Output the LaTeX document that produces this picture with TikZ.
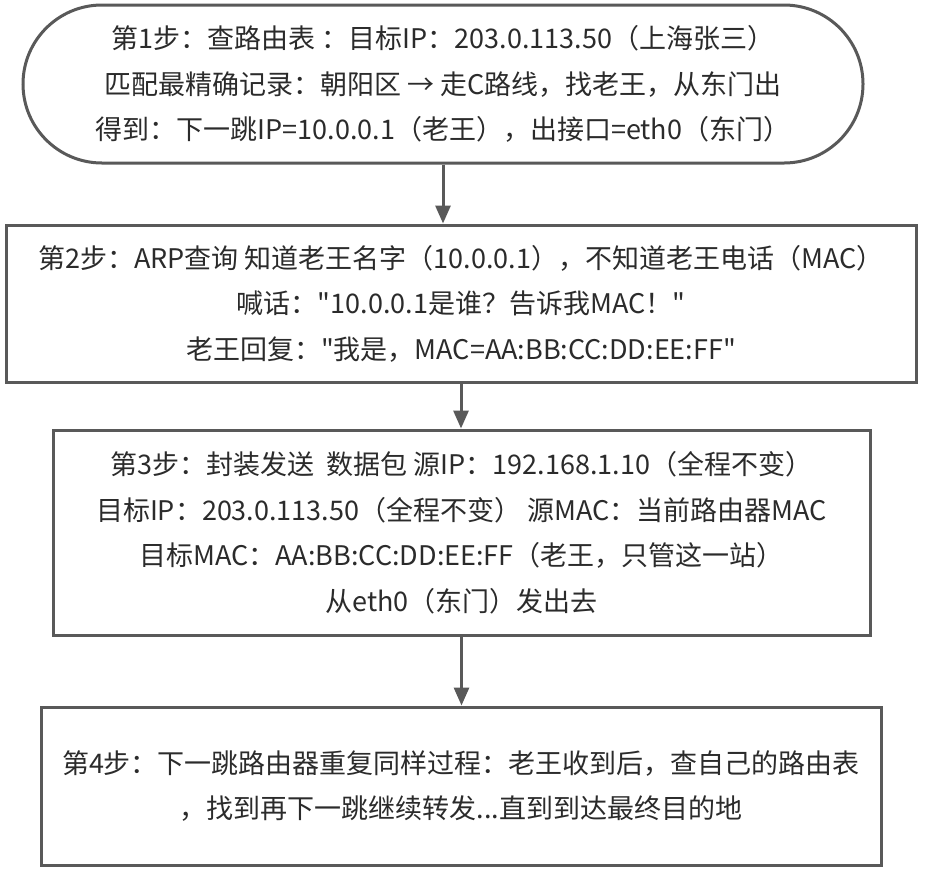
\documentclass[tikz,border=0pt]{standalone}
\usepackage{fontspec}
\newfontfamily\cjk{Noto Sans CJK SC}
\usetikzlibrary{shapes.misc,arrows.meta}
\definecolor{edgec}{HTML}{595959}
\definecolor{txtc}{HTML}{2B2B2B}
\begin{document}
\begin{tikzpicture}[x=1pt,y=-1pt,
  every node/.style={font=\cjk\fontsize{27}{45.5}\selectfont, text=txtc, align=center, inner sep=0pt},
  stepbox/.style={draw=edgec, line width=3pt, fill=white, rectangle},
  startbox/.style={draw=edgec, line width=3pt, fill=white, rounded rectangle},
  arr/.style={draw=edgec, line width=3pt, -{Triangle[length=18pt,width=15pt]}}]
\useasboundingbox (0,0) rectangle (928,871);
\fill[white] (0,0) rectangle (928,871);
\node[startbox, minimum width=840pt, minimum height=158pt] (b1) at (443,84)
  {第1步：查路由表 ：目标IP：203.0.113.50（上海张三）\\
   匹配最精确记录：朝阳区 → 走C路线，找老王，从东门出\\
   得到：下一跳IP=10.0.0.1（老王），出接口=eth0（东门）};
\node[stepbox, minimum width=910pt, minimum height=157pt] (b2) at (461,303.5)
  {第2步：ARP查询 知道老王名字（10.0.0.1），不知道老王电话（MAC）\\
   喊话："10.0.0.1是谁？告诉我MAC！"\\
   老王回复："我是，MAC=AA:BB:CC:DD:EE:FF"};
\node[stepbox, minimum width=817pt, minimum height=205pt] (b3) at (461.5,532.5)
  {第3步：封装发送\ \ 数据包 源IP：192.168.1.10（全程不变）\\
   目标IP：203.0.113.50（全程不变）\ 源MAC：当前路由器MAC\\
   目标MAC：AA:BB:CC:DD:EE:FF（老王，只管这一站）\\
   从eth0（东门）发出去};
\node[stepbox, minimum width=840pt, minimum height=158pt] (b4) at (461,786)
  {第4步：下一跳路由器重复同样过程：老王收到后，查自己的路由表\\
   ，找到再下一跳继续转发...直到到达最终目的地};
\draw[arr] (b1.south) -- (b1.south |- b2.north);
\draw[arr] (b2.south) -- (b2.south |- b3.north);
\draw[arr] (b3.south) -- (b3.south |- b4.north);
\end{tikzpicture}
\end{document}
